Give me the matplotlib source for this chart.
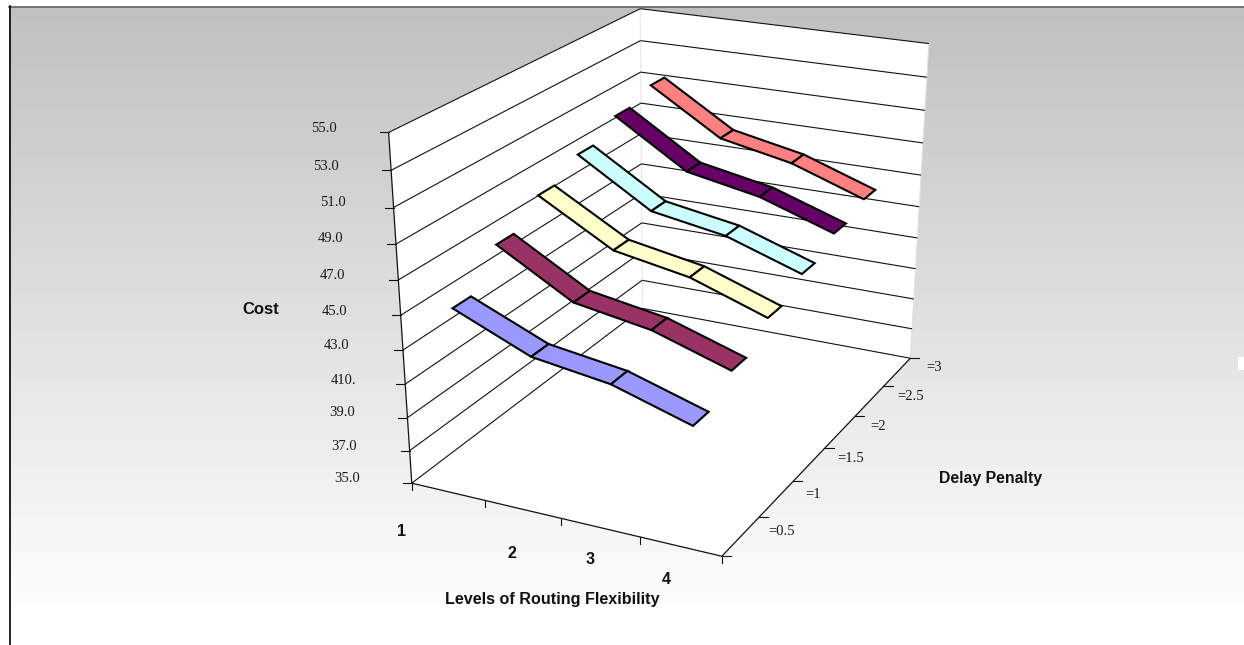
import numpy as np
import matplotlib
matplotlib.use('Agg')
import matplotlib.pyplot as plt
from matplotlib.patches import Polygon

W, H = 1244, 645

# Data
levels = [1, 2, 3, 4]
penalties = [0.5, 1, 1.5, 2, 2.5, 3]
cost_p05 = [45.3, 43.4, 42.75, 41.35]
cost_p10 = [47.3, 44.75, 44.0, 42.55]
cost_p15 = [48.65, 46.15, 45.35, 43.8]
cost_p20 = [49.65, 46.95, 46.2, 44.7]
cost_p25 = [50.65, 47.9, 47.05, 45.55]
cost_p30 = [51.3, 48.6, 47.7, 46.15]
costs = [cost_p05, cost_p10, cost_p15, cost_p20, cost_p25, cost_p30]
colors = ['#9999FF', '#993366', '#FFFFCC', '#CCFFFF', '#660066', '#FF8080']

z_ticks = [35, 37, 39, 41, 43, 45, 47, 49, 51, 53, 55]
z_labels = ['35.0', '37.0', '39.0', '410.', '43.0', '45.0', '47.0', '49.0', '51.0', '53.0', '55.0']
z_label_pos = [(346.7, 478.7), (344, 446.7), (342, 412.7), (344, 380), (337, 345.7),
               (335, 311.7), (333, 275.7), (330.3, 238.7), (333, 202.7), (326, 166.7), (324, 128)]
level_label_pos = [(402, 532), (512, 554), (590, 559), (666, 580)]
penalty_labels = ['=0.5', '=1', '=1.5', '=2', '=2.5', '=3']
penalty_label_pos = [(781.7, 531.7), (813.3, 495), (850.7, 459), (878, 426.7), (911, 396.7), (933.7, 367.7)]

# Box limits: 4 categories wide, 6 series deep, cost on the vertical
x_max, y_max = 4, 6
z_min, z_max = 35, 55

# Where known box points land in the picture, used to fit the 3D view
view_box = [(0, 0, 35), (4, 0, 35), (4, 6, 35), (0, 6, 35), (0, 0, 55), (0, 6, 55), (4, 6, 55),
            (0, 0, 45), (0, 0, 43), (0, 0, 41), (0, 0, 39), (0, 0, 37),
            (1, 0, 35), (2, 0, 35), (3, 0, 35),
            (4, 1, 35), (4, 2, 35), (4, 3, 35), (4, 4, 35), (4, 5, 35)]
view_px = [(411.7, 482.7), (721.7, 555.7), (910.7, 357.7), (642.7, 308.3), (389, 132.3), (640, 9), (929, 43.3),
           (400.7, 315.7), (402.7, 350), (405, 384.3), (407.3, 416.7), (409.3, 451),
           (485.7, 500.7), (562, 519), (640.7, 537.3),
           (758.3, 517.7), (793.3, 481.3), (825.7, 446.7), (855, 416.7), (883.3, 386.7)]


def fit_view(box, px):
    """Least squares 3x4 camera matrix from box points to pixels."""
    rows = []
    for (x, y, z), (u, v) in zip(box, px):
        a, b, c = x / x_max, y / y_max, (z - z_min) / (z_max - z_min)
        u, v = u / 1000, v / 1000
        rows.append([a, b, c, 1, 0, 0, 0, 0, -u * a, -u * b, -u * c, -u])
        rows.append([0, 0, 0, 0, a, b, c, 1, -v * a, -v * b, -v * c, -v])
    return np.linalg.svd(np.array(rows))[2][-1].reshape(3, 4)


P = fit_view(view_box, view_px)


def proj(x, y, z):
    h = P @ np.array([x / x_max, y / y_max, (z - z_min) / (z_max - z_min), 1])
    return h[0] / h[2] * 1000, h[1] / h[2] * 1000


def line3d(ax, a, b, color='#111111', lw=0.8, zorder=3):
    pa, pb = proj(*a), proj(*b)
    ax.plot([pa[0], pb[0]], [pa[1], pb[1]], color=color, lw=lw, zorder=zorder,
            solid_capstyle='butt')


fig = plt.figure(figsize=(W / 100, H / 100), dpi=100)
ax = fig.add_axes([0, 0, 1, 1])
ax.set_xlim(0, W)
ax.set_ylim(H, 0)
ax.axis('off')

# Background gradient, grey at the top fading to white
grad = np.linspace(192, 252, 48)[:, None] / 255
ax.imshow(grad, cmap='gray', vmin=0, vmax=1, extent=(9, W, 603, 7), aspect='auto',
          interpolation='nearest', zorder=0)
ax.set_xlim(0, W)
ax.set_ylim(H, 0)
ax.plot([9, W], [6.5, 6.5], color='#555555', lw=1.1, zorder=1)
ax.plot([9.5, 9.5], [6, H], color='black', lw=1.2, zorder=1)
ax.add_patch(Polygon([(1238, 357), (W, 357), (W, 370), (1238, 370)], fc='white', ec='none', zorder=1))

# Walls and floor
walls = [[(0, 0, 35), (0, 6, 35), (0, 6, 55), (0, 0, 55)],
         [(0, 6, 35), (4, 6, 35), (4, 6, 55), (0, 6, 55)],
         [(0, 0, 35), (4, 0, 35), (4, 6, 35), (0, 6, 35)]]
for wall in walls:
    ax.add_patch(Polygon([proj(*c) for c in wall], fc='white', ec='none', zorder=2))
line3d(ax, (0, 6, 35), (0, 6, 55), color='#e8e8e8', lw=0.8)
line3d(ax, (4, 6, 35), (4, 6, 55), color='#e0e0e0', lw=0.8)

# Gridlines on the walls
for z in z_ticks:
    line3d(ax, (0, 0, z), (0, 6, z))
    line3d(ax, (0, 6, z), (4, 6, z))
line3d(ax, (0, 0, 35), (0, 0, 55), lw=0.9)
line3d(ax, (0, 0, 35), (4, 0, 35), lw=0.9)
line3d(ax, (4, 0, 35), (4, 6, 35), lw=0.9)

# Ticks and their labels
for z, lab, pos in zip(z_ticks, z_labels, z_label_pos):
    px, py = proj(0, 0, z)
    ax.plot([px - 9, px], [py, py], color='#111111', lw=0.8, zorder=3)
    ax.text(pos[0], pos[1], lab, family='Liberation Serif', fontsize=10.5, color='#1a1a1a',
            ha='center', va='center', zorder=5)
for k in range(x_max + 1):
    px, py = proj(k, 0, 35)
    ax.plot([px, px], [py, py + 7], color='#111111', lw=0.8, zorder=3)
for k in range(y_max + 1):
    px, py = proj(4, k, 35)
    ax.plot([px, px + 9], [py, py], color='#111111', lw=0.8, zorder=3)
for lab, pos in zip(penalty_labels, penalty_label_pos):
    ax.text(pos[0], pos[1], lab, family='Liberation Serif', fontsize=10.5, color='#1a1a1a',
            ha='center', va='center', zorder=5)
for lab, pos in zip(levels, level_label_pos):
    ax.text(pos[0], pos[1], str(lab), family='Liberation Sans', weight='bold', fontsize=11.5,
            color='#111111', ha='center', va='center', zorder=5)

ax.text(261, 310, 'Cost', family='Liberation Sans', weight='bold', fontsize=12,
        color='#111111', ha='center', va='center', zorder=5)
ax.text(552, 599.5, 'Levels of Routing Flexibility', family='Liberation Sans', weight='bold',
        fontsize=11.6, color='#111111', ha='center', va='center', zorder=5)
ax.text(990.5, 479, 'Delay Penalty', family='Liberation Sans', weight='bold', fontsize=11.4,
        color='#111111', ha='center', va='center', zorder=5)

# Ribbons, back series first so the nearer ones sit on top
half_depth = 0.2
for i in range(len(penalties) - 1, -1, -1):
    y = penalties[i] * 2 - 0.5
    xs = [lv - 0.5 for lv in levels]
    vals = costs[i]
    for j in range(len(xs) - 1):
        quad = [proj(xs[j], y - half_depth, vals[j]), proj(xs[j + 1], y - half_depth, vals[j + 1]),
                proj(xs[j + 1], y + half_depth, vals[j + 1]), proj(xs[j], y + half_depth, vals[j])]
        ax.add_patch(Polygon(quad, closed=True, fc=colors[i], ec='black', lw=1.5,
                             joinstyle='miter', zorder=4))

fig.savefig('out.png', dpi=100)
